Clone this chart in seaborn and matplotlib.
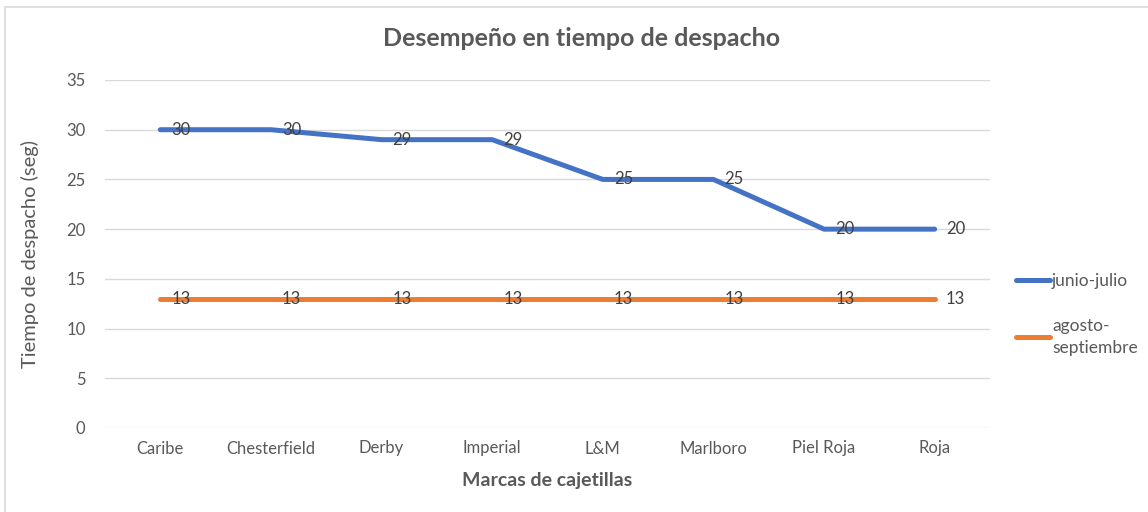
import pandas as pd
import matplotlib.pyplot as plt
import seaborn as sns
from matplotlib.lines import Line2D

# datos del grafico
marcas = ["Caribe", "Chesterfield", "Derby", "Imperial", "L&M", "Marlboro", "Piel Roja", "Roja"]
junio_julio = [30, 30, 29, 29, 25, 25, 20, 20]
agosto_septiembre = [13, 13, 13, 13, 13, 13, 13, 13]
series = ["junio-julio", "agosto-septiembre"]
colores = ["#4472C4", "#ED7D31"]

df = pd.DataFrame({
    "marca": marcas * 2,
    "tiempo": junio_julio + agosto_septiembre,
    "serie": [series[0]] * len(marcas) + [series[1]] * len(marcas),
})

sns.set_style("white")
plt.rcParams['font.family'] = ['Lato', 'DejaVu Sans']

fig = plt.figure(figsize=(11.48, 5.12), dpi=100)
ax = fig.add_axes([105 / 1148, 1 - 428 / 512, 885 / 1148, 348 / 512])

sns.lineplot(data=df, x="marca", y="tiempo", hue="serie", palette=colores,
             sort=False, linewidth=3.6, ax=ax, legend=False, zorder=3)

# etiquetas de datos a la derecha de cada punto
for vals in [junio_julio, agosto_septiembre]:
    for i, v in enumerate(vals):
        ax.annotate(str(v), (i, v), xytext=(8, 0), textcoords="offset points",
                    ha="left", va="center", fontsize=12, color="#404040", zorder=4)

ax.set_xlim(-0.5, len(marcas) - 0.5)
ax.set_ylim(0, 35)
ax.set_yticks(range(0, 36, 5))
ax.grid(axis="y", color="#D9D9D9", linewidth=1)
ax.set_axisbelow(True)
for s in ax.spines.values():
    s.set_visible(False)
ax.tick_params(axis="both", length=0, labelsize=12, labelcolor="#595959", pad=9)
ax.tick_params(axis="y", pad=14)

ax.set_xlabel("Marcas de cajetillas", fontsize=14, fontweight="bold", color="#595959", labelpad=11)
ax.set_ylabel("Tiempo de despacho (seg)", fontsize=14.5, color="#595959", labelpad=20)
fig.text(582 / 1148, 1 - 38 / 512, "Desempeño en tiempo de despacho", ha="center", va="center",
         fontsize=18, fontweight="bold", color="#595959")

# leyenda
handles = [Line2D([0], [0], color=c, linewidth=3.6) for c in colores]
leg = fig.legend(handles, ["junio-julio", "agosto-\nseptiembre"], loc="upper left",
                 bbox_to_anchor=(1000 / 1148, 1 - 257 / 512), frameon=False, fontsize=12.5,
                 labelcolor="#595959", handlelength=2.0, handletextpad=0.1, labelspacing=1.7)
for t in leg.get_texts():
    t.set_linespacing(1.45)

# borde del grafico
fig.add_artist(plt.Rectangle((5 / 1148, -0.1), 1.2, 1.1 - 7 / 512, transform=fig.transFigure,
                             fill=False, edgecolor="#D9D9D9", linewidth=1.2))

fig.savefig("out.png", dpi=100)
